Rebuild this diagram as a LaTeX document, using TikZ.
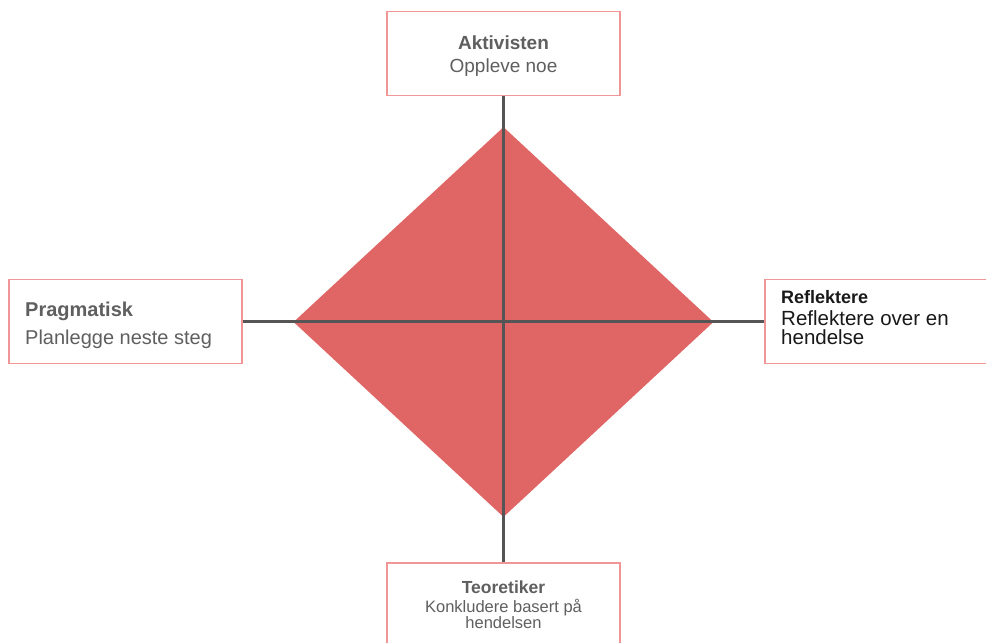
\documentclass[tikz,border=0pt]{standalone}
\usepackage{fontspec}
\setmainfont{Liberation Sans}
\usepackage{tikz}
\usetikzlibrary{shapes.geometric, positioning}
\definecolor{diamondRed}{RGB}{224, 102, 102}
\definecolor{boxBorder}{RGB}{240, 150, 150}
\definecolor{axisGray}{RGB}{85, 85, 85}
\definecolor{textGray}{RGB}{95, 95, 95}
\definecolor{textDark}{RGB}{25, 25, 25}

\begin{document}
\begin{tikzpicture}[
    x=1pt, y=-1pt,
    stylebox/.style={
        rectangle,
        minimum width=233pt,
        minimum height=84pt,
        draw=boxBorder,
        line width=1.7pt,
        fill=white,
        inner sep=0pt
    },
    rhombe/.style={
        diamond,
        minimum width=420pt,
        minimum height=390pt,
        inner sep=0pt,
        fill=diamondRed
    },
    axis/.style={
        draw=axisGray,
        line width=2.2pt
    },
    lbl/.style={
        inner sep=0pt,
        anchor=base,
        text=textGray
    }
]
\useasboundingbox (0,0) rectangle (986,643);
\clip (0,0) rectangle (986,643);

% Centre diamond
\node[rhombe] (core) at (503.5,322) {};

% Learning style boxes
\node[stylebox] (act) at (503.5,53.5) {};
\node[stylebox] (teo) at (503.5,605) {};
\node[stylebox] (prag) at (125.5,321.5) {};
\node[stylebox] (refl) at (881.5,321.5) {};

% Axes
\draw[axis] (act.south) -- (teo.north);
\draw[axis] (prag.east) -- (refl.west);

% Box texts
\node[lbl, font=\fontsize{19}{23}\selectfont\bfseries] (actTitle) at (503.5,49.5) {Aktivisten};
\node[lbl, font=\fontsize{19}{23}\selectfont] (actSub) at (503.5,72) {Oppleve noe};

\node[lbl, anchor=base west, font=\fontsize{20}{24}\selectfont\bfseries] (pragTitle) at (25,316) {Pragmatisk};
\node[lbl, anchor=base west, font=\fontsize{20}{24}\selectfont] (pragSub) at (25,344) {Planlegge neste steg};

\node[lbl, anchor=base west, text=textDark, font=\fontsize{18}{21}\selectfont\bfseries] (reflTitle) at (781,303) {Reflektere};
\node[lbl, anchor=base west, text=textDark, font=\fontsize{20.5}{19}\selectfont] (reflSubA) at (781,325) {Reflektere over en};
\node[lbl, anchor=base west, text=textDark, font=\fontsize{20.5}{19}\selectfont] (reflSubB) at (781,344) {hendelse};

\node[lbl, font=\fontsize{17.5}{19}\selectfont\bfseries] (teoTitle) at (503.5,593.5) {Teoretiker};
\node[lbl, font=\fontsize{16.5}{16}\selectfont] (teoSubA) at (503.5,612.5) {Konkludere basert på};
\node[lbl, font=\fontsize{16.5}{16}\selectfont] (teoSubB) at (503.5,628.5) {hendelsen};

\end{tikzpicture}
\end{document}
